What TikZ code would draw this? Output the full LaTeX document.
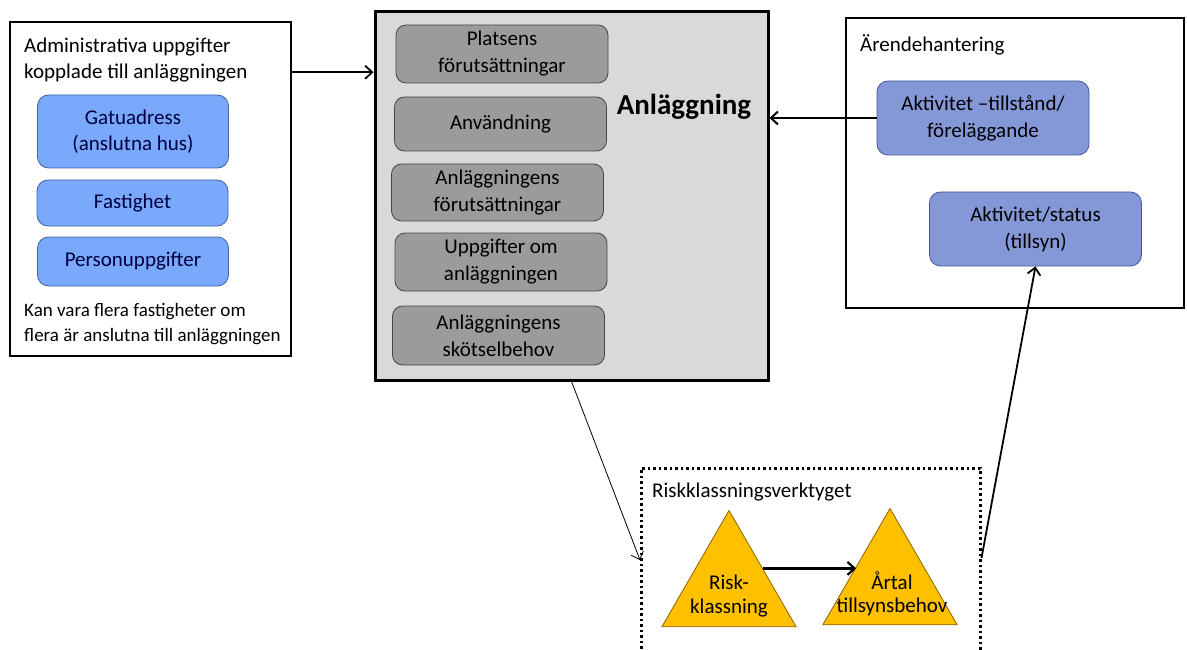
\documentclass[tikz,border=0pt]{standalone}
\usepackage{fontspec}
\setmainfont{Carlito}
\usetikzlibrary{shapes.geometric,arrows.meta}
\definecolor{adminblue}{RGB}{122,168,250}
\definecolor{adminedge}{RGB}{62,100,168}
\definecolor{partgray}{RGB}{155,155,155}
\definecolor{partedge}{RGB}{70,70,70}
\definecolor{maingray}{RGB}{217,217,217}
\definecolor{casefill}{RGB}{132,151,214}
\definecolor{caseedge}{RGB}{68,86,156}
\definecolor{riskyellow}{RGB}{255,192,0}
\definecolor{riskedge}{RGB}{140,100,0}
\begin{document}
\begin{tikzpicture}[x=1pt,y=-1pt,>={Straight Barb[length=7pt,width=13pt]}]
		    \tikzstyle{every node}=[font=\fontsize{21}{25.5}\selectfont,inner sep=0pt,align=center]
		    \tikzstyle{frame}=[draw,line width=1.5pt]
		    \tikzstyle{adminbox}=[draw=adminedge,fill=adminblue,rounded corners=11pt,line width=0.8pt,text=black!75!blue,minimum width=191pt]
		    \tikzstyle{partbox}=[draw=partedge,fill=partgray,rounded corners=10pt,line width=0.8pt,minimum width=212pt,font=\fontsize{21}{27}\selectfont]
		    \tikzstyle{casebox}=[draw=caseedge,fill=casefill,rounded corners=11pt,line width=0.8pt,minimum width=212pt,minimum height=74pt,font=\fontsize{21}{27}\selectfont]
		    \tikzstyle{risktri}=[draw=riskedge,fill=riskyellow,regular polygon,regular polygon sides=3,minimum size=155pt,line width=0.8pt]
		    \tikzstyle{risktext}=[font=\fontsize{21}{23.5}\selectfont]
		    \useasboundingbox (0,0) rectangle (1187,650);
		    \node[frame,minimum width=281pt,minimum height=334pt] (admin) at (150.5,189) {};
		    \node[anchor=west,align=left] (admintitle) at (24,60) {Administrativa uppgifter\\kopplade till anläggningen};
		    \node[adminbox,minimum height=73pt] (gatu) at (133,131.5) {Gatuadress\\(anslutna hus)};
		    \node[adminbox,minimum height=46pt] (fastighet) at (132.5,203) {Fastighet};
		    \node[adminbox,minimum height=49pt] (person) at (133,261.5) {Personuppgifter};
		    \node[anchor=west,align=left,font=\fontsize{19}{25}\selectfont] (adminnote) at (24,324.5) {Kan vara flera fastigheter om\\flera är anslutna till anläggningen};
		    \node[frame,line width=3pt,fill=maingray,minimum width=393pt,minimum height=368pt] (main) at (571.5,196) {};
		    \node[partbox,minimum height=58pt] (platsens) at (502,54) {Platsens\\förutsättningar};
		    \node[partbox,minimum height=54pt] (anvandning) at (500.5,124) {Användning};
		    \node[partbox,minimum height=57pt] (forutsattningar) at (497.5,192.5) {Anläggningens\\förutsättningar};
		    \node[partbox,minimum height=58pt] (uppgifter) at (501,262) {Uppgifter om\\anläggningen};
		    \node[partbox,minimum height=59pt] (skotsel) at (498.5,335.5) {Anläggningens\\skötselbehov};
		    \node[font=\fontsize{29}{32}\selectfont\bfseries] (mainlabel) at (684,107) {Anläggning};
		    \node[frame,minimum width=338pt,minimum height=290pt] (arende) at (1015,163) {};
		    \node[anchor=west] (arendetitle) at (860,45) {Ärendehantering};
		    \node[casebox] (tillstand) at (983,118) {Aktivitet –tillstånd/\\föreläggande};
		    \node[casebox] (status) at (1035.5,229) {Aktivitet/status\\(tillsyn)};
		    \node[draw,line width=2.5pt,dash pattern=on 2.5pt off 3pt,minimum width=339pt,minimum height=200pt,anchor=north west] (riskframe) at (640,467) {};
		    \node[anchor=west] (risktitle) at (652,492) {Riskklassningsverktyget};
		    \node[risktri] (risk) at (729,588) {};
		    \node[risktext] (risklabel) at (729,596) {Risk-\\klassning};
		    \node[risktri] (artal) at (890,586) {};
		    \node[risktext] (artallabel) at (892,594) {Årtal\\tillsynsbehov};
		    \draw[->,line width=1.8pt] ([yshift=-51pt]admin.north east) -- ([yshift=-51pt]admin.north east -| main.west);
		    \draw[->,line width=2pt] (tillstand.west) -- (tillstand.west -| main.east);
		    \draw[->,line width=0.8pt] (main.south) -- ([yshift=-93pt]riskframe.north west);
		    \draw[->,line width=2.2pt] (risk.side 3) -- (risk.side 3 -| artal.side 1);
		    \draw[->,line width=1.8pt] ([yshift=-91pt]riskframe.north east) -- (status.south);
\end{tikzpicture}
\end{document}
